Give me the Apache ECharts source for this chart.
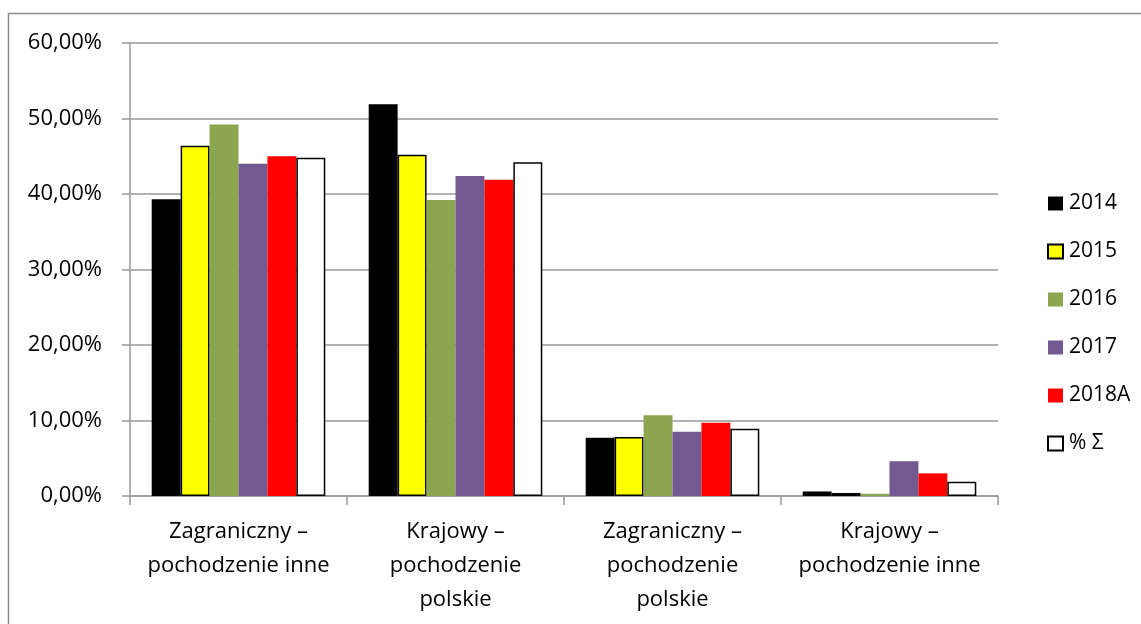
<!DOCTYPE html>
<html><head><meta charset="utf-8">
<script src="https://cdn.jsdelivr.net/npm/echarts@6/dist/echarts.min.js"></script>
<style>html,body{margin:0;padding:0;background:#fff}#c{width:1141px;height:624px}</style>
</head><body><div id="c"></div>
<script>
const categories = ["Zagraniczny –\npochodzenie inne", "Krajowy –\npochodzenie\npolskie", "Zagraniczny –\npochodzenie\npolskie", "Krajowy –\npochodzenie inne"];
const seriesNames = ["2014", "2015", "2016", "2017", "2018A", "% Σ"];
const v2014 = [39.3, 51.9, 7.7, 0.6];
const v2015 = [46.4, 45.2, 7.8, 0.4];
const v2016 = [49.2, 39.2, 10.7, 0.3];
const v2017 = [44.0, 42.4, 8.5, 4.6];
const v2018A = [45.0, 41.9, 9.7, 3.0];
const vSum = [44.8, 44.2, 8.9, 1.9];
const values = [v2014, v2015, v2016, v2017, v2018A, vSum];
const colors = ["#000000", "#ffff00", "#8ba64f", "#725a91", "#ff0000", "#ffffff"];
const borders = [0, 1.5, 0, 0, 0, 1.5];
const font = "'Open Sans', 'Noto Sans', sans-serif";

const chart = echarts.init(document.getElementById('c'));
chart.setOption({
  animation: false,
  textStyle: { fontFamily: font },
  graphic: [{ type: 'rect', shape: { x: 8.5, y: 13.5, width: 1200, height: 700 }, style: { fill: 'none', stroke: '#8c8c8c', lineWidth: 1.5 }, silent: true }],
  grid: { left: 130, right: 143, top: 43, bottom: 128, containLabel: false },
  legend: {
    orient: 'vertical', left: 1042, top: 188, itemGap: 27, itemWidth: 15, itemHeight: 14,
    icon: 'rect',
    textStyle: { fontSize: 21, color: '#000', fontFamily: font, padding: [0, 0, 0, 1] },
    data: seriesNames
  },
  xAxis: {
    type: 'category', data: categories,
    axisLine: { lineStyle: { color: '#999', width: 1.5 } },
    axisTick: { show: true, length: 9, lineStyle: { color: '#999', width: 1.5 } },
    axisLabel: { color: '#000', fontSize: 22, lineHeight: 34, margin: 19, interval: 0 }
  },
  yAxis: {
    type: 'value', min: 0, max: 60, interval: 10,
    axisLine: { show: true, lineStyle: { color: '#999', width: 1.5 } },
    axisTick: { show: true, length: 8, lineStyle: { color: '#999', width: 1.5 } },
    splitLine: { lineStyle: { color: '#999', width: 1.5 } },
    axisLabel: { color: '#000', fontSize: 22, margin: 28, formatter: v => v.toFixed(2).replace('.', ',') + '%' }
  },
  series: seriesNames.map((n, i) => ({
    name: n, type: 'bar', data: values[i],
    barGap: '0%', barCategoryGap: '20%',
    itemStyle: { color: colors[i], borderColor: '#000', borderWidth: borders[i] }
  }))
});
</script></body></html>
